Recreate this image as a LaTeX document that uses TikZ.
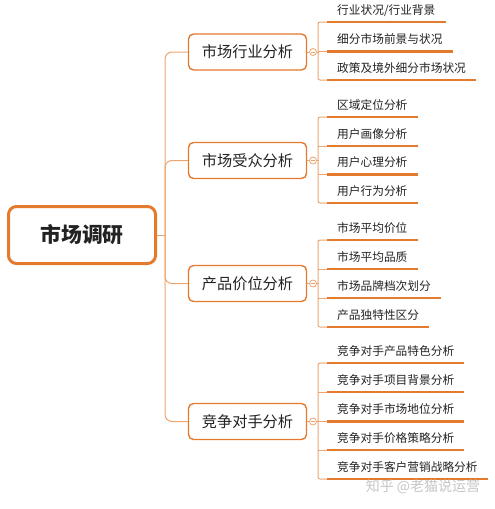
\documentclass[tikz,border=0pt]{standalone}
\usepackage{fontspec}
\setmainfont{Noto Sans CJK SC}
\definecolor{org}{RGB}{228,122,46}
\definecolor{lorg}{RGB}{237,165,112}
\definecolor{txt}{RGB}{34,34,34}
\begin{document}
\begin{tikzpicture}[x=1pt,y=-1pt,
  rootbox/.style={draw=org, line width=3pt, rounded corners=8pt, fill=white,
    minimum width=147pt, minimum height=57pt, text=txt,
    font=\fontsize{20.8}{21}\selectfont\bfseries},
  grpbox/.style={draw=org, line width=1.4pt, rounded corners=5pt, fill=white,
    minimum width=118pt, minimum height=36pt, text=txt,
    font=\fontsize{15.2}{16}\selectfont},
  leaf/.style={anchor=south west, inner xsep=10pt, inner ysep=5pt,
    text height=9pt, text depth=2.5pt, text=txt,
    font=\fontsize{11.7}{12}\selectfont},
  ul/.style={draw=org, line width=2.6pt},
  conn/.style={draw=lorg, line width=1pt},
  knob/.style={circle, draw=lorg, line width=0.8pt, fill=white, inner sep=0pt, minimum size=7pt},
  wmark/.style={text=gray!45, font=\fontsize{14}{14}\selectfont}
]
\useasboundingbox (0,0) rectangle (495,509);

% root
\node[rootbox] (R) at (82,235) {市场调研};
\coordinate (T) at (165,235);

% groups
\node[grpbox] (G1) at (247.5,52) {市场行业分析};
\node[grpbox] (G2) at (247.5,160.5) {市场受众分析};
\node[grpbox] (G3) at (247.5,283.5) {产品价位分析};
\node[grpbox] (G4) at (247.5,421.5) {竞争对手分析};

% trunk
\draw[conn] (R.east) -- (T);
\draw[conn, rounded corners=7pt] (G1.west) -| (T) |- (G4.west);
\draw[conn, rounded corners=7pt] (G2.west) -| (T);
\draw[conn, rounded corners=7pt] (G3.west) -| (T);

% knobs
\foreach \g/\y in {1/52,2/160.5,3/283.5,4/421.5}{
  \node[knob] (O\g) at (313,\y) {};
  \draw[conn] (G\g.east) -- (O\g.west);
  \draw[conn] (O\g.east) -- ++(2,0) coordinate (B\g);
  \draw[lorg, line width=0.6pt] ([xshift=-2pt]O\g.center) -- ([xshift=2pt]O\g.center);
}

% leaves group 1
\node[leaf] (a1) at (327,22) {行业状况/行业背景};
\node[leaf] (a2) at (327,51.5) {细分市场前景与状况};
\node[leaf] (a3) at (327,80) {政策及境外细分市场状况};
% group 2
\node[leaf] (b1) at (327,117) {区域定位分析};
\node[leaf] (b2) at (327,146) {用户画像分析};
\node[leaf] (b3) at (327,174.5) {用户心理分析};
\node[leaf] (b4) at (327,203) {用户行为分析};
% group 3
\node[leaf] (c1) at (327,240) {市场平均价位};
\node[leaf] (c2) at (327,269) {市场平均品质};
\node[leaf] (c3) at (327,298) {市场品牌档次划分};
\node[leaf] (c4) at (327,327) {产品独特性区分};
% group 4
\node[leaf] (d1) at (327,363) {竞争对手产品特色分析};
\node[leaf] (d2) at (327,392) {竞争对手项目背景分析};
\node[leaf] (d3) at (327,421.5) {竞争对手市场地位分析};
\node[leaf] (d4) at (327,450) {竞争对手价格策略分析};
\node[leaf] (d5) at (327,479) {竞争对手客户营销战略分析};

% brackets
\draw[conn, rounded corners=2pt] (a1.south west) -- ++(-9,0) |- (a3.south west);
\draw[conn] (a2.south west) -- ++(-9,0);
\draw[conn, rounded corners=2pt] (b1.south west) -- ++(-9,0) |- (b4.south west);
\foreach \n in {b2,b3} \draw[conn] (\n.south west) -- ++(-9,0);
\draw[conn, rounded corners=2pt] (c1.south west) -- ++(-9,0) |- (c4.south west);
\foreach \n in {c2,c3} \draw[conn] (\n.south west) -- ++(-9,0);
\draw[conn, rounded corners=2pt] (d1.south west) -- ++(-9,0) |- (d5.south west);
\foreach \n in {d2,d3,d4} \draw[conn] (\n.south west) -- ++(-9,0);

% underlines
\foreach \n in {a1,a2,a3,b1,b2,b3,b4,c1,c2,c3,c4,d1,d2,d3,d4,d5}
  \draw[ul] (\n.south west) -- (\n.south east);

% watermark
\node[wmark] (wm) at (423,487) {知乎 @老猫说运营};
\end{tikzpicture}
\end{document}
